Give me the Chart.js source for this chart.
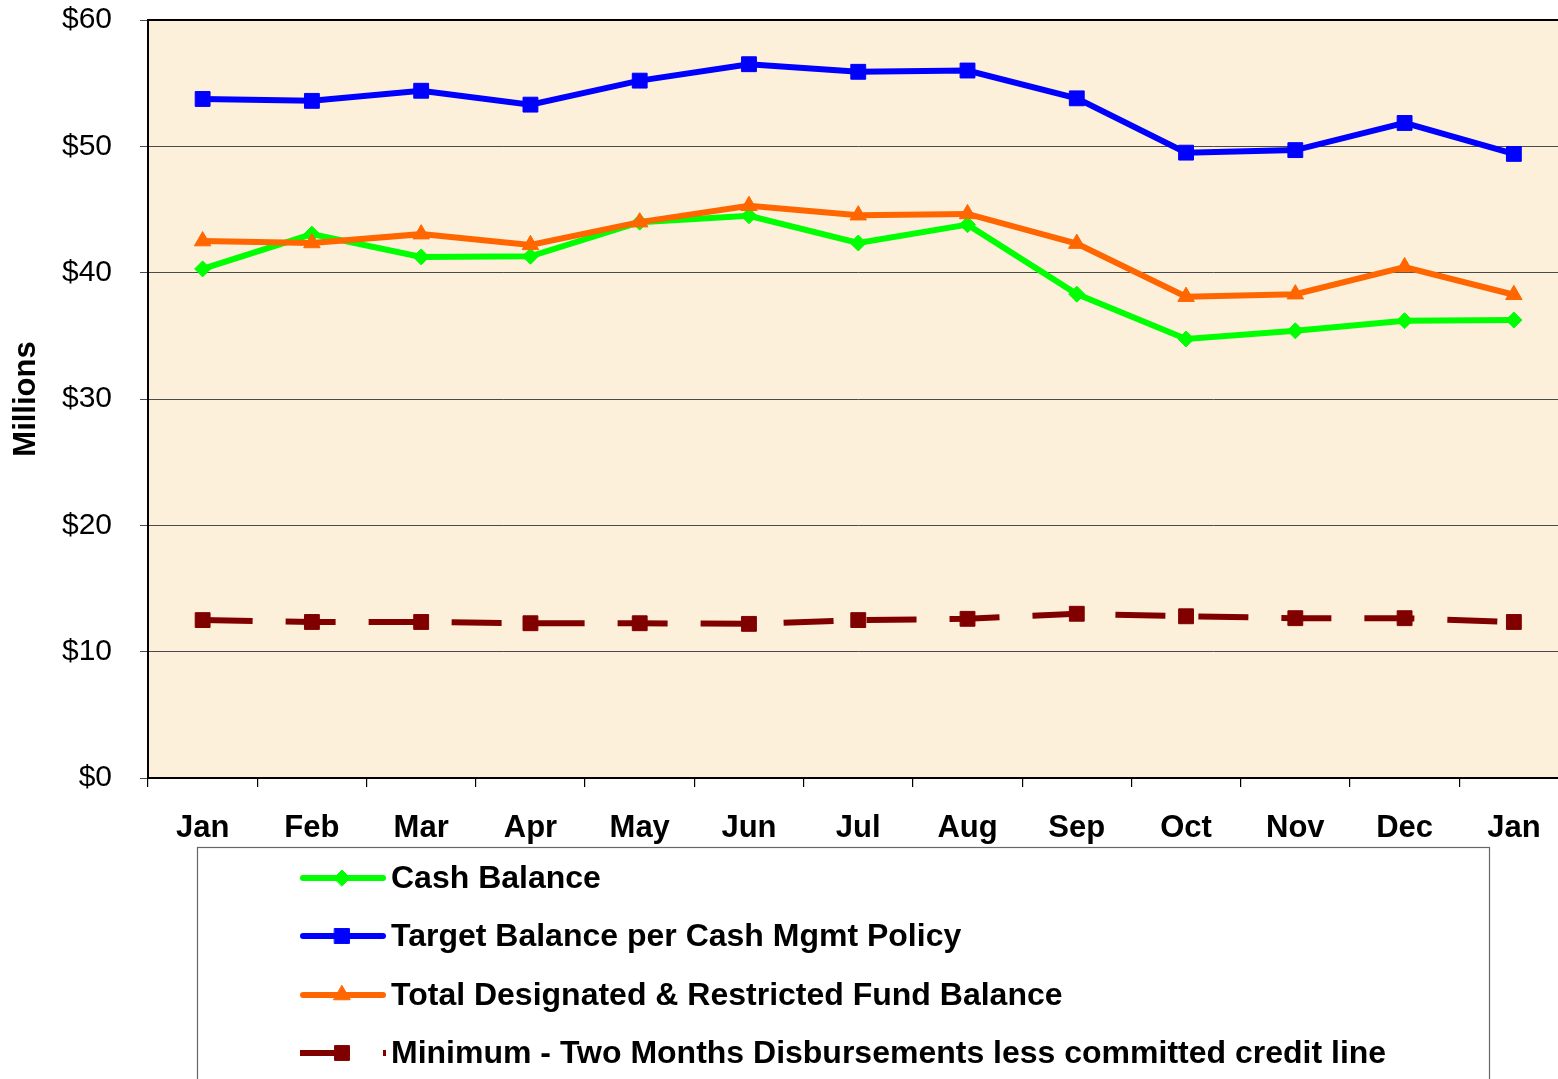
<!DOCTYPE html>
<html>
<head>
<meta charset="utf-8">
<script src="https://cdn.jsdelivr.net/npm/chart.js@4/dist/chart.umd.min.js"></script>
<style>
  html, body { margin: 0; padding: 0; background: #ffffff; overflow: hidden; width: 1558px; height: 1079px; }
  #wrap { position: absolute; left: 0; top: 0; width: 1580px; height: 1079px; }
  canvas { display: block; }
</style>
</head>
<body>
<div id="wrap"><canvas id="c" width="1580" height="1079"></canvas></div>
<script>
const categories = ['Jan', 'Feb', 'Mar', 'Apr', 'May', 'Jun', 'Jul', 'Aug', 'Sep', 'Oct', 'Nov', 'Dec', 'Jan'];
const cashBalance = [40.3, 43.05, 41.25, 41.3, 44.0, 44.5, 42.35, 43.8, 38.3, 34.75, 35.4, 36.2, 36.25];
const targetBalance = [53.75, 53.6, 54.4, 53.3, 55.2, 56.5, 55.9, 56.0, 53.8, 49.5, 49.7, 51.85, 49.4];
const designatedBalance = [42.5, 42.35, 43.05, 42.2, 44.0, 45.3, 44.55, 44.65, 42.3, 38.1, 38.3, 40.45, 38.25];
const minimumBalance = [12.5, 12.35, 12.35, 12.25, 12.25, 12.2, 12.5, 12.6, 13.0, 12.8, 12.65, 12.65, 12.35];
const seriesNames = [
  'Cash Balance',
  'Target Balance per Cash Mgmt Policy',
  'Total Designated & Restricted Fund Balance',
  'Minimum - Two Months Disbursements less committed credit line'
];
const yAxisTitle = 'Millions';
const yMin = 0, yMax = 60, yStep = 10;

const FONT = '"Liberation Sans", Arial, Helvetica, sans-serif';

const backgroundPlugin = {
  id: 'plotBg',
  beforeDraw(chart) {
    const { ctx, chartArea: a } = chart;
    ctx.save();
    ctx.fillStyle = '#fcf0da';
    ctx.fillRect(a.left, a.top, a.right - a.left, a.bottom - a.top);
    ctx.restore();
  },
  afterDraw(chart) {
    const { ctx, chartArea: a } = chart;
    ctx.save();
    ctx.strokeStyle = '#000';
    ctx.lineWidth = 2;
    ctx.beginPath();
    ctx.moveTo(a.left - 1, a.top);
    ctx.lineTo(a.right + 1, a.top);
    ctx.moveTo(a.right, a.top);
    ctx.lineTo(a.right, a.bottom);
    ctx.stroke();
    ctx.restore();
  }
};

const legendPlugin = {
  id: 'boxLegend',
  afterDraw(chart) {
    const ctx = chart.ctx;
    ctx.save();
    ctx.strokeStyle = '#666';
    ctx.lineWidth = 1.2;
    ctx.strokeRect(197.5, 847.5, 1292, 300);
    const rowY = [878, 936, 995, 1053];
    chart.data.datasets.forEach((ds, i) => {
      const y = rowY[i];
      ctx.save();
      ctx.strokeStyle = ds.borderColor;
      ctx.lineWidth = ds.borderWidth;
      ctx.lineCap = ds.borderDash ? 'butt' : 'round';
      if (ds.borderDash) ctx.setLineDash(ds.borderDash);
      ctx.beginPath();
      ctx.moveTo(ds.borderDash ? 300 : 303, y);
      ctx.lineTo(ds.borderDash ? 386 : 383, y);
      ctx.stroke();
      ctx.setLineDash([]);
      const opts = {
        pointStyle: ds.pointStyle,
        radius: ds.pointRadius,
        borderWidth: ds.pointBorderWidth,
        rotation: 0
      };
      ctx.fillStyle = ds.pointBackgroundColor;
      ctx.strokeStyle = ds.pointBorderColor;
      ctx.lineWidth = ds.pointBorderWidth;
      if (Chart.helpers && Chart.helpers.drawPoint) {
        Chart.helpers.drawPoint(ctx, opts, 342, y);
      }
      ctx.restore();
      ctx.fillStyle = '#000';
      ctx.font = 'bold 32px ' + FONT;
      ctx.textBaseline = 'middle';
      ctx.textAlign = 'left';
      ctx.fillText(ds.label, 391, y + 1);
    });
    ctx.restore();
  }
};

const datasets = [
  {
    label: seriesNames[0], data: cashBalance,
    borderColor: '#00ff00', backgroundColor: '#00ff00', borderWidth: 6,
    pointStyle: 'rectRot', pointRadius: 8, pointBorderWidth: 1,
    pointBackgroundColor: '#00ff00', pointBorderColor: '#00ff00', order: 4
  },
  {
    label: seriesNames[1], data: targetBalance,
    borderColor: '#0000ff', backgroundColor: '#0000ff', borderWidth: 6,
    pointStyle: 'rect', pointRadius: 10.5, pointBorderWidth: 1,
    pointBackgroundColor: '#0000ff', pointBorderColor: '#0000ff', order: 3
  },
  {
    label: seriesNames[2], data: designatedBalance,
    borderColor: '#ff6600', backgroundColor: '#ff6600', borderWidth: 6,
    pointStyle: 'triangle', pointRadius: 9.5, pointBorderWidth: 1,
    pointBackgroundColor: '#ff6600', pointBorderColor: '#ff6600', order: 2
  },
  {
    label: seriesNames[3], data: minimumBalance,
    borderColor: '#800000', backgroundColor: '#800000', borderWidth: 6,
    borderDash: [50, 33],
    pointStyle: 'rect', pointRadius: 10.5, pointBorderWidth: 1,
    pointBackgroundColor: '#800000', pointBorderColor: '#800000', order: 1
  }
];

new Chart(document.getElementById('c'), {
  type: 'line',
  data: { labels: categories, datasets },
  options: {
    responsive: false,
    animation: false,
    devicePixelRatio: 1,
    layout: { padding: { left: 0, right: 10, top: 20, bottom: 221 } },
    plugins: { legend: { display: false }, tooltip: { enabled: false }, title: { display: false } },
    elements: { line: { tension: 0, borderCapStyle: 'butt', borderJoinStyle: 'miter' } },
    scales: {
      x: {
        type: 'category',
        offset: true,
        grid: { display: true, drawOnChartArea: false, drawTicks: true, tickLength: 9, color: '#000', lineWidth: 1.2, offset: true },
        border: { display: true, color: '#000', width: 2 },
        ticks: { color: '#000', font: { family: FONT, size: 31, weight: 'bold' }, padding: 23, maxRotation: 0, autoSkip: false },
        afterFit(scale) { scale.height = 80; scale.paddingLeft = 0; scale.paddingRight = 0; }
      },
      y: {
        min: yMin, max: yMax,
        ticks: {
          stepSize: yStep, color: '#000', padding: 28,
          font: { family: FONT, size: 30 },
          callback: (v) => '$' + v
        },
        grid: { color: '#4a4a4a', lineWidth: 1, tickLength: 8, drawTicks: true },
        border: { display: true, color: '#000', width: 2 },
        title: { display: true, text: yAxisTitle, color: '#000', font: { family: FONT, size: 31, weight: 'bold' }, padding: { top: 8, bottom: 0 } },
        afterFit(scale) { scale.width = 148; scale.paddingTop = 0; scale.paddingBottom = 0; }
      }
    }
  },
  plugins: [backgroundPlugin, legendPlugin]
});
</script>
</body>
</html>
